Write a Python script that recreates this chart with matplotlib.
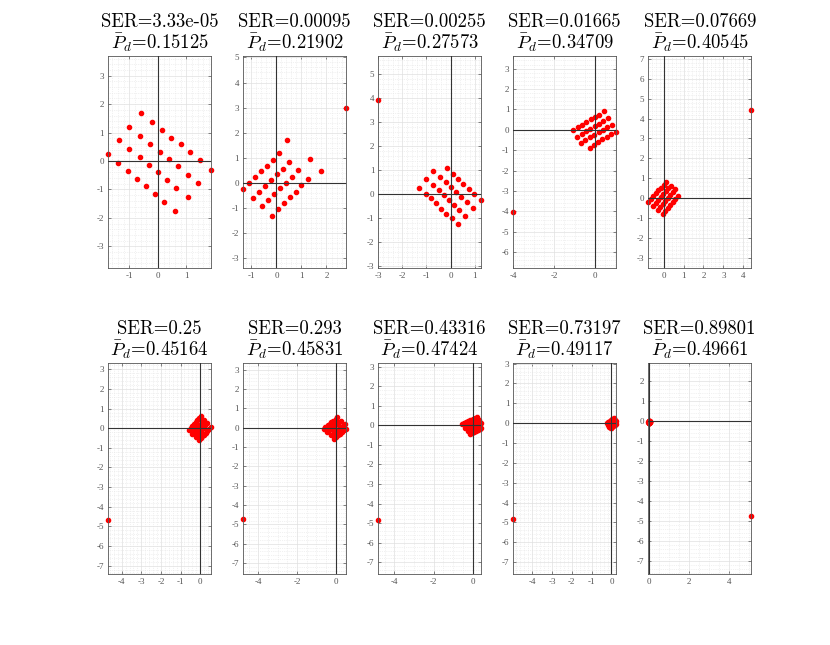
import matplotlib
matplotlib.use("Agg")
import matplotlib.pyplot as plt
from matplotlib.ticker import MultipleLocator, AutoMinorLocator

plt.rcParams["mathtext.fontset"] = "cm"
plt.rcParams["axes.unicode_minus"] = False

# SER and mean detection probability per panel (titles)
ser_labels = ["3.33e-05", "0.00095", "0.00255", "0.01665", "0.07669",
              "0.25", "0.293", "0.43316", "0.73197", "0.89801"]
pd_labels = ["0.15125", "0.21902", "0.27573", "0.34709", "0.40545",
             "0.45164", "0.45831", "0.47424", "0.49117", "0.49661"]

# received constellation points (I, Q)
I_1 = [-0.59, -0.21, -1.00, 0.15, -0.62, 0.48, -1.35, -0.27, 0.80, -1.00, 0.06, 1.14, -0.64, 0.39, -1.74, 1.48,
       -1.39, -0.32, 0.71, 1.86, -1.05, 0.00, 1.05, -0.73, 0.32, 1.42, -0.41, 0.65, -0.09, 1.05, 0.22, 0.61]
Q_1 = [1.69, 1.38, 1.19, 1.09, 0.88, 0.82, 0.74, 0.59, 0.59, 0.41, 0.33, 0.31, 0.13, 0.08, 0.24, 0.02,
       -0.07, -0.14, -0.18, -0.31, -0.34, -0.39, -0.48, -0.62, -0.66, -0.78, -0.87, -0.95, -1.15, -1.25, -1.45, -1.75]

I_2 = [2.77, 0.44, 0.12, 1.33, -0.15, 0.52, -0.39, 0.25, -0.61, 0.88, 1.79, 0.01, -0.85, 0.63, -0.21, 1.27,
       -1.08, 0.37, -1.32, -0.45, 0.15, 1.00, -0.69, -0.09, 0.77, -0.93, 0.55, -0.32, -0.56, 0.29, 0.05, -0.17]
Q_2 = [2.99, 1.69, 1.18, 0.95, 0.92, 0.82, 0.68, 0.56, 0.46, 0.50, 0.47, 0.34, 0.23, 0.23, 0.09, 0.13,
       -0.01, 0.00, -0.25, -0.13, -0.21, -0.11, -0.39, -0.47, -0.36, -0.60, -0.58, -0.71, -0.94, -0.82, -1.05, -1.33]

I_3 = [-3.00, -0.15, -0.71, 0.10, -0.43, -1.01, 0.33, -0.18, -0.74, 0.53, 0.03, -1.33, -0.50, 0.76, 0.24, -1.04,
       -0.28, 0.97, -0.81, 0.43, 1.26, -0.07, -0.60, 0.68, 0.14, -0.39, 0.92, 0.36, -0.19, 0.61, 0.06, 0.31]
Q_3 = [3.94, 1.09, 0.96, 0.86, 0.73, 0.62, 0.65, 0.51, 0.40, 0.41, 0.31, 0.27, 0.18, 0.21, 0.08, 0.03,
       -0.01, 0.00, -0.17, -0.11, -0.25, -0.24, -0.38, -0.32, -0.44, -0.59, -0.58, -0.65, -0.81, -0.89, -1.00, -1.24]

I_4 = [-4.00,
       -1.08, -0.82, -0.62, -0.43, -0.21, 0.00, 0.21, 0.44,
       -0.89, -0.66, -0.44, -0.23, -0.02, 0.20, 0.39, 0.62,
       -0.70, -0.48, -0.25, -0.03, 0.18, 0.38, 0.59, 0.82,
       -0.26, -0.05, 0.16, 0.36, 0.57, 0.79, 1.02]
Q_4 = [-4.05,
       0.00, 0.13, 0.26, 0.40, 0.51, 0.63, 0.74, 0.91,
       -0.35, -0.20, -0.07, 0.05, 0.18, 0.30, 0.43, 0.56,
       -0.66, -0.50, -0.36, -0.25, -0.12, 0.00, 0.13, 0.25,
       -0.88, -0.73, -0.60, -0.46, -0.33, -0.21, -0.10]

I_5 = [4.38,
       -0.76, -0.63, -0.51, -0.38, -0.26, -0.13, 0.00, 0.12,
       -0.52, -0.40, -0.27, -0.14, -0.02, 0.11, 0.24, 0.36,
       -0.29, -0.16, -0.03, 0.09, 0.22, 0.34, 0.47, 0.59,
       -0.05, 0.08, 0.20, 0.33, 0.45, 0.58, 0.71]
Q_5 = [4.43,
       -0.19, -0.04, 0.10, 0.25, 0.39, 0.54, 0.69, 0.83,
       -0.39, -0.24, -0.10, 0.05, 0.19, 0.34, 0.49, 0.63,
       -0.58, -0.44, -0.29, -0.15, 0.00, 0.15, 0.29, 0.44,
       -0.78, -0.63, -0.49, -0.34, -0.20, -0.05, 0.09]

I_6 = [-4.68,
       -0.56, -0.48, -0.39, -0.31, -0.23, -0.14, -0.06, 0.02,
       -0.39, -0.31, -0.23, -0.14, -0.06, 0.03, 0.11, 0.19,
       -0.23, -0.14, -0.06, 0.02, 0.11, 0.19, 0.27, 0.36,
       -0.06, 0.03, 0.11, 0.20, 0.28, 0.37, 0.45, 0.54]
Q_6 = [-4.68,
       -0.10, 0.00, 0.10, 0.20, 0.30, 0.40, 0.50, 0.60,
       -0.27, -0.17, -0.07, 0.03, 0.13, 0.23, 0.33, 0.43,
       -0.45, -0.35, -0.25, -0.15, -0.05, 0.05, 0.15, 0.25,
       -0.62, -0.52, -0.42, -0.32, -0.22, -0.12, -0.02, 0.08]

I_7 = [-4.77,
       -0.62, -0.52, -0.41, -0.31, -0.21, -0.11, 0.00, 0.10,
       -0.44, -0.33, -0.23, -0.13, -0.03, 0.08, 0.18, 0.28,
       -0.25, -0.15, -0.05, 0.06, 0.16, 0.26, 0.37, 0.47,
       -0.07, 0.03, 0.14, 0.24, 0.34, 0.45, 0.53]
Q_7 = [-4.73,
       -0.05, 0.03, 0.12, 0.20, 0.29, 0.37, 0.45, 0.54,
       -0.22, -0.14, -0.05, 0.03, 0.12, 0.20, 0.28, 0.37,
       -0.39, -0.31, -0.22, -0.14, -0.05, 0.03, 0.11, 0.20,
       -0.56, -0.48, -0.39, -0.31, -0.22, -0.14, -0.06]

I_8 = [-4.82,
       -0.54, -0.43, -0.33, -0.22, -0.12, -0.01, 0.10, 0.20,
       -0.41, -0.30, -0.20, -0.09, 0.01, 0.12, 0.23, 0.33,
       -0.27, -0.16, -0.06, 0.05, 0.15, 0.26, 0.37, 0.41,
       -0.14, -0.03, 0.07, 0.18, 0.28, 0.39, 0.41]
Q_8 = [-4.83,
       0.05, 0.11, 0.16, 0.22, 0.27, 0.33, 0.39, 0.44,
       -0.12, -0.06, -0.01, 0.05, 0.10, 0.16, 0.22, 0.27,
       -0.29, -0.23, -0.18, -0.12, -0.07, -0.01, 0.05, 0.10,
       -0.46, -0.40, -0.35, -0.29, -0.24, -0.18, -0.12]

I_9 = [-4.94,
       -0.23, -0.18, -0.13, -0.08, -0.03, 0.02, 0.07, 0.12,
       -0.17, -0.12, -0.07, -0.02, 0.03, 0.08, 0.13, 0.18,
       -0.11, -0.06, -0.01, 0.04, 0.09, 0.14, 0.19, 0.22,
       -0.05, 0.00, 0.05, 0.10, 0.15, 0.20, 0.22]
Q_9 = [-4.82,
       0.00, 0.04, 0.08, 0.12, 0.15, 0.19, 0.23, 0.27,
       -0.09, -0.05, -0.01, 0.03, 0.06, 0.10, 0.14, 0.18,
       -0.18, -0.14, -0.10, -0.06, -0.03, 0.01, 0.05, 0.09,
       -0.27, -0.23, -0.19, -0.15, -0.12, -0.08, -0.04]

I_10 = [5.10,
        -0.020, -0.013, -0.006, 0.001, 0.008, 0.015, 0.022, 0.029,
        -0.013, -0.006, 0.001, 0.008, 0.015, 0.022, 0.029, 0.036,
        -0.006, 0.001, 0.008, 0.015, 0.022, 0.029, 0.036, 0.043,
        0.001, 0.008, 0.015, 0.022, 0.029, 0.036, 0.043]
Q_10 = [-4.72,
        -0.030, -0.020, -0.010, 0.000, 0.010, 0.020, 0.030, 0.040,
        -0.053, -0.043, -0.033, -0.023, -0.013, -0.003, 0.007, 0.017,
        -0.077, -0.067, -0.057, -0.047, -0.037, -0.027, -0.017, -0.007,
        -0.100, -0.090, -0.080, -0.070, -0.060, -0.050, -0.040]

I_all = [I_1, I_2, I_3, I_4, I_5, I_6, I_7, I_8, I_9, I_10]
Q_all = [Q_1, Q_2, Q_3, Q_4, Q_5, Q_6, Q_7, Q_8, Q_9, Q_10]
x_steps = [1, 1, 1, 2, 1, 1, 2, 2, 1, 2]

W, H = 8.3, 6.45
fig = plt.figure(figsize=(W, H), dpi=100)

left0, col_step, ax_w = 0.1305, 0.1627, 0.1234
rows = [(0.585, 0.328), (0.1105, 0.327)]

for k in range(10):
    r, c = divmod(k, 5)
    bottom, ax_h = rows[r]
    ax = fig.add_axes([left0 + c * col_step, bottom, ax_w, ax_h])
    xs, ys = I_all[k], Q_all[k]

    # axis equal + tight: x fits data, y stretched to the box aspect
    x0, x1 = min(xs), max(xs)
    ratio = (ax_h * H) / (ax_w * W)
    yc = (min(ys) + max(ys)) / 2
    half = (x1 - x0) * ratio / 2
    ax.set_xlim(x0, x1)
    ax.set_ylim(yc - half, yc + half)

    ax.xaxis.set_major_locator(MultipleLocator(x_steps[k]))
    ax.yaxis.set_major_locator(MultipleLocator(1))
    ax.xaxis.set_minor_locator(AutoMinorLocator())
    ax.yaxis.set_minor_locator(AutoMinorLocator())
    ax.grid(which="major", color="#e0e0e0", lw=0.5, ls="-")
    ax.grid(which="minor", color="#e4e4e4", lw=0.5, ls=":")
    ax.set_axisbelow(True)

    ax.plot(xs, ys, "o", color="red", ms=3.0, mec="red", clip_on=False, zorder=2)
    ax.axhline(0, color="#333333", lw=0.8, zorder=3)
    ax.axvline(0, color="#333333", lw=0.8, zorder=3)

    ax.tick_params(which="both", direction="in", top=True, right=True,
                   width=0.5, colors="#555555", labelsize=6.5, pad=3)
    ax.tick_params(which="major", length=2.5)
    ax.tick_params(which="minor", length=0)
    for lab in ax.get_xticklabels() + ax.get_yticklabels():
        lab.set_fontfamily("Liberation Serif")
    for sp in ax.spines.values():
        sp.set_color("#555555")
        sp.set_linewidth(0.6)

    ax.set_title("SER=" + ser_labels[k] + "\n" + r"$\bar{P}_d$=" + pd_labels[k],
                 fontsize=13.5, fontfamily="cmr10", linespacing=1.05, pad=5)

fig.savefig("out.png", dpi=100)
